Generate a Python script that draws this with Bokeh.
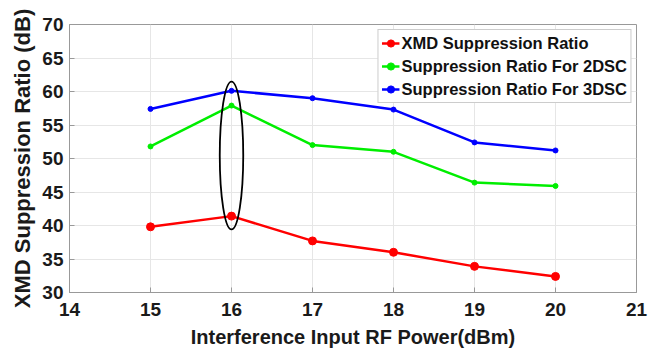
from bokeh.plotting import figure
from bokeh.models import Range1d, Legend, LegendItem, FixedTicker
from bokeh.embed import file_html
from bokeh.resources import INLINE

power_dbm = [15, 16, 17, 18, 19, 20]
xmd_ratio = [39.8, 41.4, 37.7, 36.0, 33.9, 32.4]
ratio_2dsc = [51.8, 57.9, 52.0, 51.0, 46.4, 45.9]
ratio_3dsc = [57.4, 60.1, 59.0, 57.3, 52.4, 51.2]
highlight_x = 16
x_ticks = [14, 15, 16, 17, 18, 19, 20, 21]
y_ticks = [30, 35, 40, 45, 50, 55, 60, 65, 70]

FONT = "Liberation Sans"

p = figure(width=658, height=352, output_backend="svg", toolbar_location=None,
           x_range=Range1d(14, 21), y_range=Range1d(30, 70),
           min_border_left=69, min_border_right=22, min_border_top=24, min_border_bottom=60)
p.background_fill_color = "white"
p.border_fill_color = "white"
p.outline_line_color = "#999999"
p.outline_line_width = 1

for ax in (p.xaxis[0], p.yaxis[0]):
    ax.axis_line_color = "#999999"
    ax.major_tick_line_color = "#999999"
    ax.major_tick_in = 5
    ax.major_tick_out = 0
    ax.minor_tick_line_color = None
    ax.major_label_text_font = FONT
    ax.major_label_text_font_style = "bold"
    ax.major_label_text_font_size = "19px"
    ax.major_label_text_color = "#1a1a1a"
    ax.axis_label_text_font = FONT
    ax.axis_label_text_font_style = "bold"
    ax.axis_label_text_color = "#1a1a1a"

p.xaxis.ticker = FixedTicker(ticks=x_ticks)
p.yaxis.ticker = FixedTicker(ticks=y_ticks)
p.xaxis.axis_label = "Interference Input RF Power(dBm)"
p.xaxis.axis_label_text_font_size = "20px"
p.xaxis.major_label_standoff = 10
p.xaxis.axis_label_standoff = 7
p.yaxis.axis_label = "XMD Suppression Ratio (dB)"
p.yaxis.axis_label_text_font_size = "22px"
p.yaxis.major_label_standoff = 6
p.yaxis.axis_label_standoff = 4

p.xgrid.grid_line_color = "#e6e6e6"
p.ygrid.grid_line_color = "#e6e6e6"

r1 = p.line(power_dbm, xmd_ratio, line_color="#ff0000", line_width=2.5)
m1 = p.scatter(power_dbm, xmd_ratio, marker="circle", size=8, fill_color="#ff0000", line_color="#ff0000")
r2 = p.line(power_dbm, ratio_2dsc, line_color="#00ee00", line_width=2.5)
m2 = p.scatter(power_dbm, ratio_2dsc, marker="circle", size=5, fill_color="#00ee00", line_color="#00ee00")
r3 = p.line(power_dbm, ratio_3dsc, line_color="#0000ff", line_width=2.5)
m3 = p.scatter(power_dbm, ratio_3dsc, marker="circle", size=5, fill_color="#0000ff", line_color="#0000ff")

# ellipse highlighting the peak column
idx = power_dbm.index(highlight_x)
lo = xmd_ratio[idx] - 2.0
hi = ratio_3dsc[idx] + 1.4
p.ellipse(x=[highlight_x], y=[(lo + hi) / 2], width=[0.29], height=[hi - lo],
          fill_color=None, line_color="black", line_width=1.8)

legend = Legend(items=[
    LegendItem(label="XMD Suppression Ratio", renderers=[r1, m1]),
    LegendItem(label="Suppression Ratio For 2DSC", renderers=[r2, m2]),
    LegendItem(label="Suppression Ratio For 3DSC", renderers=[r3, m3]),
], location="top_right")
legend.label_text_font = FONT
legend.label_text_font_style = "bold"
legend.label_text_font_size = "16.5px"
legend.label_text_color = "#111111"
legend.border_line_color = "#999999"
legend.background_fill_alpha = 1
legend.glyph_width = 18
legend.glyph_height = 20
legend.label_height = 20
legend.spacing = 3
legend.padding = 3
legend.margin = 5
legend.label_standoff = 2
p.add_layout(legend)

open("out.html", "w").write(file_html(p, INLINE))
